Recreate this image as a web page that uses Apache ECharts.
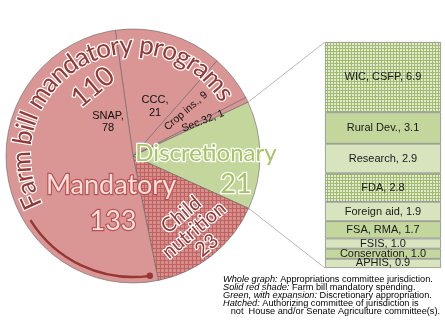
<!DOCTYPE html>
<html><head><meta charset="utf-8">
<script src="https://cdn.jsdelivr.net/npm/echarts@6/dist/echarts.min.js"></script>
<style>html,body{margin:0;padding:0;background:#fff}#c{width:445px;height:324px}</style>
</head><body><div id="c"></div>
<script>
// Pie slices, clockwise starting at CCC
const sliceNames = ['CCC', 'Crop ins.', 'Sec.32', 'Discretionary', 'Child nutrition', 'SNAP'];
const sliceValues = [21, 9, 1, 21, 23, 78];
// Group totals written across the pie
const groupNames = ['Farm bill mandatory programs', 'Mandatory', 'Discretionary'];
const groupValues = [110, 133, 21];
// Breakdown of the discretionary slice
const detailNames = ['WIC, CSFP', 'Rural Dev.', 'Research', 'FDA', 'Foreign aid', 'FSA, RMA', 'FSIS', 'Conservation', 'APHIS'];
const detailValues = [6.9, 3.1, 2.9, 2.8, 1.9, 1.7, 1.0, 1.0, 0.9];
const detailHatched = [true, false, false, true, false, false, false, false, false];
// Key lines (italic part, plain part)
const keyLines = [
  ['Whole graph:', ' Appropriations committee jurisdiction.'],
  ['Solid red shade:', ' Farm bill mandatory spending.'],
  ['Green, with expansion:', ' Discretionary appropriation.'],
  ['Hatched:', ' Authorizing committee of jurisdiction is'],
  ['', '   not  House and/or Senate Agriculture committee(s).']
];

const PIE_CX = 133, PIE_CY = 156, PIE_R = 127, START = 98;
const BAR = {left: 325, top: 42, width: 116, height: 226};
const RED = '#d99694', GREEN = '#c3d69b', LIGHTGREEN = '#d7e4bd', DARKRED = '#953735';
const deg = Math.PI / 180;

function gridPattern(size, base, line) {
  const c = document.createElement('canvas');
  c.width = c.height = size;
  const g = c.getContext('2d');
  g.fillStyle = base; g.fillRect(0, 0, size, size);
  g.fillStyle = line; g.fillRect(0, 0, size, 1); g.fillRect(0, 0, 1, size);
  return {image: c, repeat: 'repeat'};
}
const redHatch = gridPattern(4, '#d68e8d', '#c0625f');
const greenHatch = gridPattern(3, '#e2ebd0', '#a1bc6f');

// Row fills of the breakdown column, top to bottom (hatched rows use the mesh)
const plainFills = [GREEN, LIGHTGREEN, LIGHTGREEN, GREEN, LIGHTGREEN, GREEN, LIGHTGREEN];
let plainIdx = 0;
const detailFills = detailHatched.map(h => h ? greenHatch : plainFills[plainIdx++]);
const sliceColors = sliceNames.map(n => n === 'Discretionary' ? GREEN : n === 'Child nutrition' ? redHatch : RED);

const total = sliceValues.reduce((a, b) => a + b, 0);
const detailTotal = detailValues.reduce((a, b) => a + b, 0);
// clockwise-from-top angle where slice k begins
function sliceStart(k) {
  let s = 0; for (let i = 0; i < k; i++) s += sliceValues[i];
  return (90 - START) + 360 * s / total;
}
function polar(r, a) { return [PIE_CX + r * Math.sin(a * deg), PIE_CY - r * Math.cos(a * deg)]; }

const measureCtx = document.createElement('canvas').getContext('2d');
function arcText(text, size, family, r, midAngle, style) {
  measureCtx.font = size + 'px ' + family;
  const widths = [...text].map(ch => measureCtx.measureText(ch).width);
  const totalW = widths.reduce((a, b) => a + b, 0);
  let cum = -totalW / 2;
  const out = [];
  [...text].forEach((ch, i) => {
    const a = midAngle + (cum + widths[i] / 2) / r / deg;
    cum += widths[i];
    const p = polar(r, a);
    out.push({type: 'text', x: p[0], y: p[1], rotation: -a * deg, z: 20,
      style: Object.assign({text: ch, fontSize: size, fontFamily: family, align: 'center', verticalAlign: 'middle'}, style)});
  });
  return out;
}

const outlinedRed = {fill: DARKRED, stroke: '#ffffff', lineWidth: 2.4, shadowColor: 'rgba(0,0,0,0.35)', shadowBlur: 2};
const graphics = [];
graphics.push(...arcText(groupNames[0], 26, 'Lato', 111, -29.5, outlinedRed));
graphics.push({type: 'text', x: 93, y: 87, rotation: 40 * deg, z: 20,
  style: Object.assign({text: String(groupValues[0]), fontSize: 27, fontFamily: 'Lato', align: 'center', verticalAlign: 'middle'}, outlinedRed)});

const pinkText = {fill: '#f6e2e1', stroke: '#c0504d', lineWidth: 2.4, shadowColor: 'rgba(192,80,77,0.6)', shadowBlur: 3};
graphics.push({type: 'text', x: 111, y: 185, z: 20,
  style: Object.assign({text: groupNames[1], fontSize: 27, fontFamily: 'Lato', align: 'center', verticalAlign: 'middle'}, pinkText)});
graphics.push({type: 'text', x: 113, y: 221, z: 20,
  style: Object.assign({text: String(groupValues[1]), fontSize: 27, fontFamily: 'Lato', align: 'center', verticalAlign: 'middle'}, pinkText)});

const greenText = {fill: '#a6c366', stroke: '#ffffff', lineWidth: 2.6, shadowColor: 'rgba(0,0,0,0.3)', shadowBlur: 2};
graphics.push({type: 'text', x: 206, y: 153, z: 20,
  style: Object.assign({text: groupNames[2], fontSize: 24, fontFamily: 'Lato', align: 'center', verticalAlign: 'middle'}, greenText)});
graphics.push({type: 'text', x: 236, y: 184, z: 20,
  style: Object.assign({text: String(groupValues[2]), fontSize: 27, fontFamily: 'Lato', align: 'center', verticalAlign: 'middle'}, greenText)});

// Child nutrition label
graphics.push({type: 'text', x: 194, y: 230, rotation: 40 * deg, z: 20,
  style: Object.assign({text: 'Child\nnutrition\n' + sliceValues[4], fontSize: 20, lineHeight: 20, fontFamily: 'Lato', align: 'center', verticalAlign: 'middle'}, outlinedRed)});

// Plain slice labels
const plain = {fontSize: 11, fontFamily: 'Liberation Sans', fill: '#111', align: 'center', verticalAlign: 'middle'};
graphics.push({type: 'text', x: 108, y: 122, z: 20, style: Object.assign({text: sliceNames[5] + ',\n' + sliceValues[5], lineHeight: 12}, plain)});
graphics.push({type: 'text', x: 155, y: 106, z: 20, style: Object.assign({text: sliceNames[0] + ',\n' + sliceValues[0], lineHeight: 13}, plain)});
graphics.push({type: 'text', x: 186, y: 111, rotation: 41 * deg, z: 20, style: Object.assign({text: sliceNames[1] + ', ' + sliceValues[1]}, plain, {fontSize: 10.5})});
graphics.push({type: 'text', x: 203, y: 121, rotation: 21 * deg, z: 20, style: Object.assign({text: sliceNames[2] + ', ' + sliceValues[2]}, plain, {fontSize: 10.5})});

// Bracket arc with end dot
const arcR = 121, arcA0 = 172, arcA1 = 238;
graphics.push({type: 'arc', z: 15, shape: {cx: PIE_CX, cy: PIE_CY, r: arcR, startAngle: (arcA0 - 90) * deg, endAngle: (arcA1 - 90) * deg, clockwise: true},
  style: {stroke: DARKRED, lineWidth: 2.4, fill: null}});
const dot = polar(arcR, arcA0);
graphics.push({type: 'circle', z: 16, shape: {cx: dot[0], cy: dot[1], r: 3.2}, style: {fill: DARKRED}});

// Connector lines from the discretionary slice to the breakdown column
const pTop = polar(PIE_R, sliceStart(3)), pBot = polar(PIE_R, sliceStart(4));
graphics.push({type: 'line', z: 5, shape: {x1: pTop[0], y1: pTop[1], x2: BAR.left, y2: BAR.top}, style: {stroke: '#a6a6a6', lineWidth: 0.8}});
graphics.push({type: 'line', z: 5, shape: {x1: pBot[0], y1: pBot[1], x2: BAR.left, y2: BAR.top + BAR.height}, style: {stroke: '#a6a6a6', lineWidth: 0.8}});

// Key text
const keyText = keyLines.map(l => (l[0] ? '{i|' + l[0] + '}' : '') + '{n|' + l[1] + '}').join('\n');
const keyFont = {fontSize: 9.2, fontFamily: 'Liberation Sans', lineHeight: 8, fill: '#000'};
graphics.push({type: 'text', x: 223, y: 275, z: 20,
  style: {text: keyText, fontSize: 9.2, fontFamily: 'Liberation Sans', lineHeight: 8, fill: '#000',
    rich: {i: Object.assign({fontStyle: 'italic'}, keyFont), n: Object.assign({}, keyFont)}}});

const chart = echarts.init(document.getElementById('c'), null, {renderer: 'canvas'});
chart.setOption({
  animation: false,
  grid: Object.assign({}, BAR),
  xAxis: {type: 'category', data: [''], show: false},
  yAxis: {type: 'value', inverse: true, min: 0, max: detailTotal, show: false},
  series: [
    {
      type: 'pie', center: [PIE_CX, PIE_CY], radius: PIE_R, startAngle: START, clockwise: true,
      silent: true, label: {show: false}, labelLine: {show: false}, emphasis: {disabled: true},
      itemStyle: {borderColor: '#666666', borderWidth: 0.6},
      data: sliceNames.map((n, i) => ({name: n, value: sliceValues[i], itemStyle: {color: sliceColors[i]}}))
    },
    ...detailNames.map((n, i) => ({
      type: 'bar', name: n, stack: 'detail', barWidth: '100%', silent: true,
      data: [detailValues[i]],
      itemStyle: {color: detailFills[i], borderColor: '#8c8c8c', borderWidth: 0.8},
      label: {show: true, position: 'inside', formatter: n + ', ' + detailValues[i].toFixed(1),
        fontSize: 11, fontFamily: 'Liberation Sans', color: '#1a1a1a'}
    }))
  ],
  graphic: graphics
});
</script></body></html>
